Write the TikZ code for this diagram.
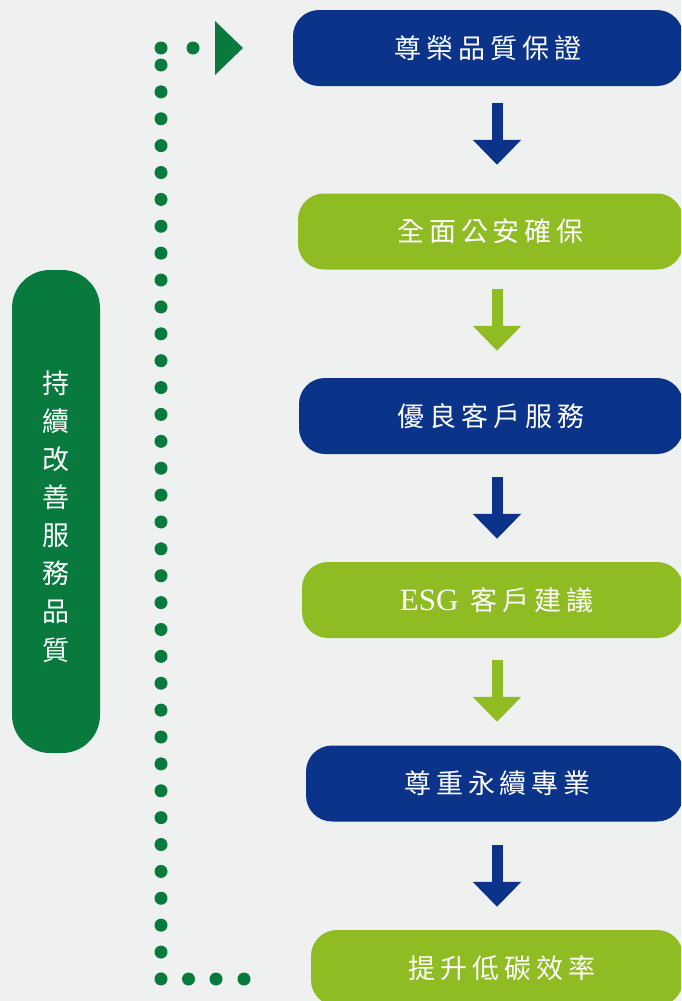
\documentclass[tikz,border=0pt]{standalone}
\usepackage{fontspec}
\setmainfont{Liberation Serif}
\newfontfamily\cjk[LetterSpace=18]{Noto Sans CJK TC}
\newfontfamily\cjkbar{Noto Sans CJK TC}
\usetikzlibrary{arrows.meta}

\definecolor{pagebg}{HTML}{EFF0F0}
\definecolor{navy}{HTML}{0C338A}
\definecolor{lime}{HTML}{8FBC22}
\definecolor{leaf}{HTML}{087A3E}

\tikzset{
  stepbox/.style={rounded corners=26pt, minimum height=76pt, inner sep=0pt,
    text=white, font=\fontsize{27}{27}\selectfont},
  navybox/.style={stepbox, fill=navy},
  limebox/.style={stepbox, fill=lime},
  flowarrow/.style={line width=11pt, -{Triangle[width=47pt,length=25pt]}},
  leafdot/.style={fill=leaf}
}

\begin{document}
\begin{tikzpicture}[x=1pt,y=-1pt]
            \useasboundingbox (0,0) rectangle (681,1001);
            \fill[pagebg] (0,0) rectangle (681,1001);
            \clip (0,0) rectangle (681,1001);
            % left bar
            \node[fill=leaf, rounded corners=38pt, minimum width=88pt, minimum height=483pt, inner sep=0pt] (bar) at (56,511.5) {};
            \node[text=white, align=center, font=\cjkbar\fontsize{27}{38.1}\selectfont] (barlabel) at (56,516.5) {持\\續\\改\\善\\服\\務\\品\\質};
            % dotted loop
            \foreach \i in {0,...,34}
                \fill[leafdot] (161,65+26.88*\i) circle (6.5pt);
            \fill[leafdot] (161,48) circle (6.5pt);
            \fill[leafdot] (193,48) circle (6.5pt);
            \fill[leafdot] (188.5,979) circle (6.5pt);
            \fill[leafdot] (216,979) circle (6.5pt);
            \fill[leafdot] (244,979) circle (6.5pt);
            \fill[leaf] (215,21) -- (243,48) -- (215,75) -- cycle;
            % steps
            \node[navybox, minimum width=390pt] (s1) at (488,48) {\cjk 尊榮品質保證};
            \node[limebox, minimum width=385pt] (s2) at (490.5,231.5) {\cjk 全面公安確保};
            \node[navybox, minimum width=384pt] (s3) at (491,416) {\cjk 優良客戶服務};
            \node[limebox, minimum width=381pt] (s4) at (492.5,600) {\hspace{8pt}{\fontsize{31}{31}\selectfont ESG}\hspace{12pt}{\cjk 客戶建議}};
            \node[navybox, minimum width=377pt] (s5) at (494.5,783.5) {\hspace{6pt}\cjk 尊重永續專業};
            \node[limebox, minimum width=372pt] (s6) at (497,968) {\hspace{10pt}\cjk 提升低碳效率};
            \coordinate (ax) at (497,0);
            \draw[flowarrow, navy, shorten <=17pt, shorten >=28.5pt] (s1.south -| ax) -- (s2.north -| ax);
            \draw[flowarrow, lime, shorten <=19.5pt, shorten >=27pt] (s2.south -| ax) -- (s3.north -| ax);
            \draw[flowarrow, navy, shorten <=23pt, shorten >=23pt] (s3.south -| ax) -- (s4.north -| ax);
            \draw[flowarrow, lime, shorten <=22pt, shorten >=23.5pt] (s4.south -| ax) -- (s5.north -| ax);
            \draw[flowarrow, navy, shorten <=23.5pt, shorten >=23pt] (s5.south -| ax) -- (s6.north -| ax);
        \end{tikzpicture}
\end{document}
